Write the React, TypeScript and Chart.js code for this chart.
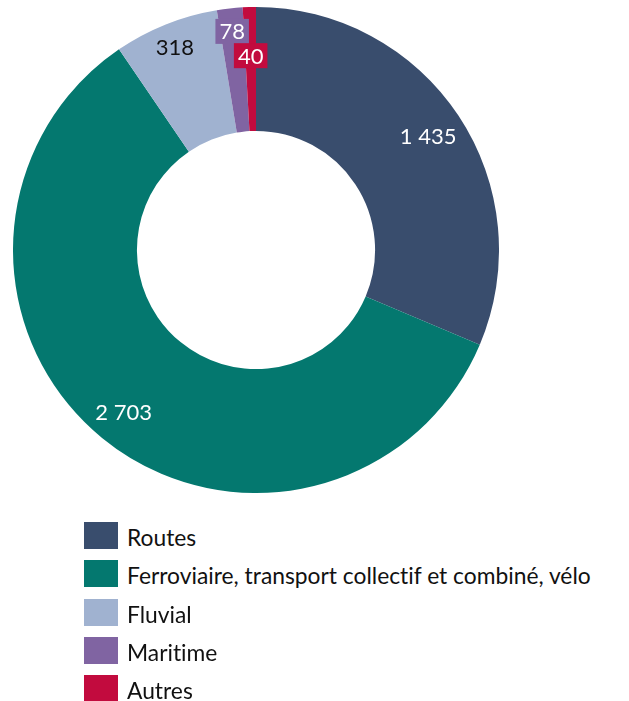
import React, { useEffect, useRef } from "react";
import { Chart, registerables } from "chart.js";

Chart.register(...registerables);

const categories = [
  "Routes",
  "Ferroviaire, transport collectif et combiné, vélo",
  "Fluvial",
  "Maritime",
  "Autres",
];
const values = [1435, 2703, 318, 78, 40];
const colors = ["#394D6D", "#04786F", "#A0B2D0", "#8064A2", "#C20B3E"];
const labelColors = ["#FFFFFF", "#FFFFFF", "#111111", "#FFFFFF", "#FFFFFF"];
const labelRadial = [0.85, 0.86, 0.9, 0.905, 0.8];
const labelBoxed = [false, false, false, true, true];

const FONT = "Lato, 'Noto Sans', sans-serif";

function fmt(v: number): string {
  return String(v).replace(/\B(?=(\d{3})+(?!\d))/g, " ");
}

const labelPlugin = {
  id: "sliceLabels",
  afterDatasetsDraw(chart: any) {
    const ctx = chart.ctx;
    const meta = chart.getDatasetMeta(0);
    ctx.save();
    ctx.font = `22px ${FONT}`;
    ctx.textAlign = "center";
    ctx.textBaseline = "middle";
    meta.data.forEach((arc: any, i: number) => {
      const { x, y, startAngle, endAngle, outerRadius } = arc.getProps(
        ["x", "y", "startAngle", "endAngle", "outerRadius"],
        true
      );
      const mid = (startAngle + endAngle) / 2;
      const r = outerRadius * labelRadial[i];
      const px = x + Math.cos(mid) * r;
      const py = y + Math.sin(mid) * r;
      const text = fmt(values[i]);
      if (labelBoxed[i]) {
        const w = ctx.measureText(text).width + 8;
        const h = 25;
        ctx.fillStyle = colors[i];
        ctx.fillRect(px - w / 2, py - h / 2, w, h);
      }
      ctx.fillStyle = labelColors[i];
      ctx.fillText(text, px, py + 1);
    });
    ctx.restore();
  },
};

export default function App() {
  const ref = useRef<HTMLCanvasElement | null>(null);
  useEffect(() => {
    if (!ref.current) return;
    const chart = new Chart(ref.current, {
      type: "doughnut",
      data: {
        labels: categories,
        datasets: [
          {
            data: values,
            backgroundColor: colors,
            borderWidth: 0,
          },
        ],
      },
      options: {
        animation: false,
        responsive: false,
        cutout: "49%",
        layout: { padding: 0 },
        plugins: {
          legend: { display: false },
          tooltip: { enabled: false },
        },
      },
      plugins: [labelPlugin],
    });
    return () => chart.destroy();
  }, []);

  return (
    <div
      style={{
        position: "fixed",
        left: 0,
        top: 0,
        width: 629,
        height: 701,
        background: "#fff",
        fontFamily: FONT,
        fontVariantLigatures: "none",
      }}
    >
      <canvas
        ref={ref}
        width={486}
        height={486}
        style={{ position: "absolute", left: 13, top: 7, width: 486, height: 486 }}
      />
      {categories.map((c, i) => (
        <div
          key={c}
          style={{
            position: "absolute",
            left: 84,
            top: 522 + i * 38.3,
            height: 27,
            display: "flex",
            alignItems: "center",
            whiteSpace: "nowrap",
          }}
        >
          <div style={{ width: 34, height: 27, background: colors[i], flex: "none" }} />
          <span style={{ marginLeft: 9, fontSize: 22.8, color: "#111", lineHeight: "27px", position: "relative", top: 2 }}>
            {c}
          </span>
        </div>
      ))}
    </div>
  );
}
